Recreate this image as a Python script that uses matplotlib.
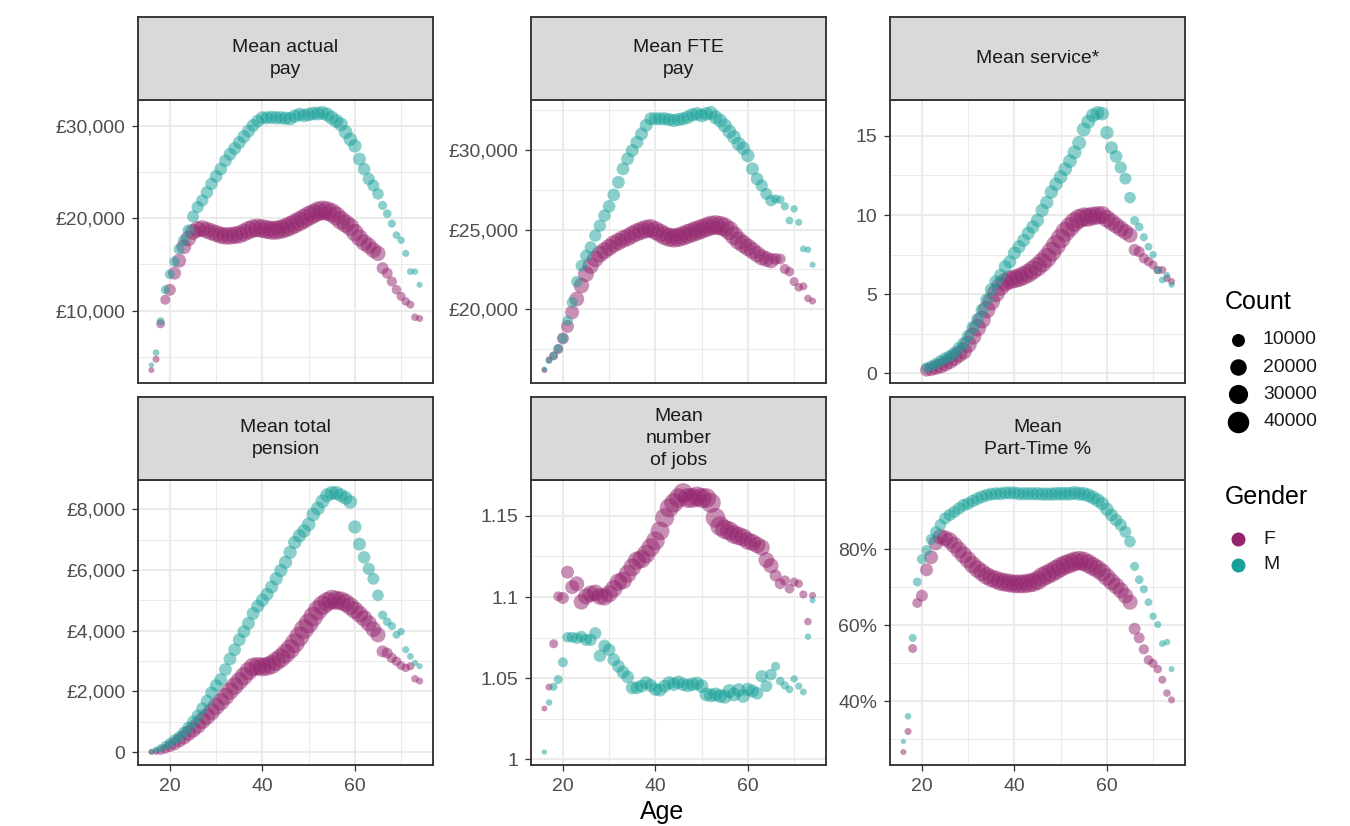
import numpy as np
import matplotlib
matplotlib.use('Agg')
import matplotlib.pyplot as plt
from matplotlib.ticker import MultipleLocator, FuncFormatter

plt.rcParams['font.family'] = ['Liberation Sans', 'DejaVu Sans']

# ---- data ----
ages = list(range(16, 75))
service_ages = list(range(21, 75))

count_F = [300, 900, 2800, 4200, 7800, 10000, 12500, 15000, 17000, 18500,
           20000, 21000, 21500, 22000, 22500, 23000, 23500, 24000, 24500, 25000,
           26000, 27000, 27500, 28000, 28500, 29000, 29500, 30000, 30500, 31000,
           32000, 32500, 33000, 33000, 33000, 32500, 32500, 32000, 31500, 31000,
           30000, 28500, 27000, 25500, 24000, 22000, 20500, 19000, 17500, 16000,
           7800, 5800, 4500, 3600, 2900, 2300, 1800, 1300, 900]
count_M = [100, 600, 1700, 2800, 4200, 5000, 5800, 6500, 7200, 7800,
           8200, 8500, 8800, 9000, 9200, 9400, 9500, 9600, 9700, 9800,
           9900, 10000, 10000, 10100, 10200, 10300, 10400, 10500, 10600, 10700,
           10800, 11000, 11200, 11400, 11600, 11800, 12000, 12200, 12400, 12500,
           12500, 12300, 12000, 11500, 11000, 10000, 9200, 8500, 7800, 7000,
           3000, 2400, 1900, 1500, 1200, 950, 750, 550, 350]

pay_F = [3550, 4730, 8570, 11180, 12260, 14050, 15410, 16920, 17810, 18530,
         18820, 18890, 18710, 18530, 18350, 18170, 18100, 18100, 18170, 18240,
         18460, 18710, 18890, 18960, 18890, 18780, 18710, 18710, 18820, 18960,
         19180, 19430, 19680, 19960, 20250, 20500, 20750, 20860, 20790, 20610,
         20250, 19780, 19430, 19070, 18460, 17890, 17380, 17030, 16560, 16200,
         14600, 14050, 13150, 12260, 11540, 11000, 10650, 9280, 9140]
pay_M = [4100, 5450, 8850, 12260, 13940, 15300, 16670, 17630, 18710, 20210,
         21220, 21940, 22830, 23730, 24550, 25340, 26240, 26950, 27560, 28210,
         28850, 29460, 30070, 30540, 30900, 30900, 30950, 30900, 30900, 30850,
         30800, 31080, 31250, 31150, 31250, 31360, 31360, 31430, 31250, 30900,
         30540, 30180, 29350, 28570, 27850, 26420, 25340, 24270, 23550, 22650,
         21400, 20500, 19430, 18170, 17630, 16200, 14230, 14230, 12800]

fte_F = [16190, 16840, 17090, 17510, 18180, 18930, 19810, 20650, 21490, 22220,
         22740, 23160, 23470, 23680, 23890, 24100, 24250, 24410, 24520, 24690,
         24830, 24940, 25040, 25080, 24940, 24790, 24620, 24520, 24480, 24520,
         24620, 24730, 24830, 24940, 25040, 25150, 25250, 25290, 25250, 25150,
         24940, 24620, 24310, 24100, 23890, 23680, 23470, 23260, 23160, 23050,
         23160, 23160, 22530, 22360, 21740, 21380, 21440, 20690, 20520]
fte_M = [16250, 16780, 17090, 17550, 18180, 19290, 20440, 21740, 22740, 23370,
         23890, 24620, 25250, 25880, 26460, 27180, 27970, 28810, 29440, 29960,
         30480, 31000, 31530, 31950, 31950, 31950, 31950, 31900, 31840, 31900,
         31950, 32050, 32200, 32260, 32150, 32260, 32320, 32050, 31840, 31530,
         31150, 30800, 30380, 30100, 29640, 28810, 28180, 27760, 27240, 26820,
         26920, 26880, 26460, 25570, 26300, 25460, 23790, 23740, 22800]

service_F = [0.21, 0.27, 0.38, 0.48, 0.63, 0.79, 1.0, 1.21, 1.42, 1.84,
             2.36, 2.88, 3.4, 4.03, 4.55, 5.07, 5.49, 5.76, 5.9, 5.97,
             6.05, 6.18, 6.33, 6.53, 6.74, 7.0, 7.3, 7.68, 8.1, 8.52,
             8.94, 9.25, 9.56, 9.77, 9.87, 9.87, 9.94, 9.98, 10.0, 9.77,
             9.56, 9.35, 9.14, 8.94, 8.73, 7.8, 7.68, 7.27, 7.06, 6.85,
             6.53, 6.53, 6.0, 5.8]
service_M = [0.38, 0.48, 0.63, 0.79, 0.96, 1.1, 1.3, 1.6, 1.9, 2.35,
             2.9, 3.4, 4.0, 4.65, 5.3, 5.8, 6.2, 6.75, 7.05, 7.6,
             8.0, 8.4, 8.85, 9.25, 9.67, 10.3, 10.8, 11.45, 11.95, 12.4,
             12.9, 13.4, 13.95, 14.55, 15.4, 15.9, 16.3, 16.45, 16.4, 15.2,
             14.25, 13.7, 13.0, 12.3, 11.1, 9.65, 9.25, 8.6, 8.0, 7.5,
             6.5, 5.9, 6.2, 5.6]

pension_F = [0, 20, 54, 109, 196, 272, 380, 489, 620, 739,
             870, 1033, 1174, 1326, 1500, 1652, 1826, 2011, 2174, 2337,
             2500, 2663, 2804, 2826, 2804, 2826, 2880, 2989, 3098, 3239,
             3391, 3587, 3804, 4043, 4239, 4457, 4674, 4837, 4946, 5022,
             5000, 4980, 4913, 4804, 4674, 4543, 4402, 4239, 4043, 3859,
             3315, 3261, 3098, 2989, 2848, 2772, 2826, 2413, 2337]
pension_M = [20, 76, 130, 217, 304, 413, 511, 652, 815, 1000,
             1196, 1435, 1685, 1957, 2196, 2391, 2717, 3065, 3370, 3696,
             3967, 4239, 4565, 4804, 5000, 5196, 5435, 5707, 5978, 6250,
             6576, 6902, 7120, 7283, 7500, 7826, 8022, 8261, 8457, 8533,
             8533, 8457, 8370, 8239, 7413, 6848, 6413, 6033, 5707, 5163,
             4511, 4294, 4152, 3859, 3967, 3370, 3152, 2935, 2826]

jobs_F = [1.0313, 1.0445, 1.0712, 1.1004, 1.0994, 1.1153, 1.1061, 1.1082, 1.097, 1.1004,
          1.102, 1.1025, 1.1004, 1.1, 1.102, 1.1051, 1.1092, 1.1102, 1.1143, 1.1183,
          1.1224, 1.1234, 1.1265, 1.1305, 1.1346, 1.1407, 1.1488, 1.1549, 1.158, 1.161,
          1.1641, 1.161, 1.161, 1.162, 1.161, 1.161, 1.158, 1.1488, 1.1437, 1.1417,
          1.1407, 1.1386, 1.1376, 1.1366, 1.1346, 1.1336, 1.1321, 1.1305, 1.1228, 1.1193,
          1.1132, 1.1082, 1.1102, 1.1051, 1.1092, 1.1082, 1.1016, 1.0848, 1.101]
jobs_M = [1.0045, 1.035, 1.0447, 1.0492, 1.0598, 1.0752, 1.0752, 1.0746, 1.0756, 1.0736,
          1.0736, 1.0777, 1.0638, 1.0699, 1.0675, 1.0614, 1.0573, 1.0537, 1.0508, 1.0441,
          1.0441, 1.0451, 1.0472, 1.0455, 1.0431, 1.0427, 1.0451, 1.0472, 1.0462, 1.0476,
          1.0462, 1.0455, 1.0462, 1.0468, 1.0451, 1.04, 1.0394, 1.04, 1.039, 1.0386,
          1.0421, 1.04, 1.0427, 1.039, 1.0431, 1.0421, 1.0407, 1.0512, 1.0451, 1.0522,
          1.0573, 1.0482, 1.0455, 1.0431, 1.0496, 1.0451, 1.0415, 1.0756, 1.098]

parttime_F = [26.7, 32.1, 53.9, 65.9, 67.8, 74.6, 77.9, 81.7, 83.3, 82.9,
              82.3, 81.1, 79.8, 78.5, 77.2, 75.9, 74.8, 73.9, 73.0, 72.4,
              72.0, 71.5, 71.3, 71.1, 70.9, 70.9, 70.9, 71.1, 71.3, 71.8,
              72.7, 73.3, 73.9, 74.6, 75.3, 75.9, 76.3, 76.8, 77.0, 76.8,
              76.2, 75.5, 74.8, 73.9, 72.7, 71.5, 70.4, 69.2, 67.8, 66.1,
              59.1, 56.7, 53.7, 50.9, 50.0, 48.5, 45.7, 42.2, 40.4]
parttime_M = [29.5, 36.1, 56.7, 71.4, 77.4, 79.7, 82.6, 84.6, 86.4, 88.1,
              89.0, 89.8, 90.7, 91.6, 92.0, 92.7, 93.3, 93.8, 94.2, 94.5,
              94.6, 94.6, 94.8, 94.8, 94.8, 94.6, 94.6, 94.6, 94.6, 94.6,
              94.5, 94.5, 94.5, 94.6, 94.6, 94.6, 94.6, 94.8, 94.6, 94.5,
              94.2, 93.6, 92.9, 92.0, 90.5, 89.0, 87.7, 86.4, 84.6, 82.0,
              75.5, 72.0, 69.5, 66.1, 62.4, 60.2, 55.2, 55.6, 48.5]

count_breaks = [10000, 20000, 30000, 40000]
genders = ['F', 'M']
colors = {'F': '#94236C', 'M': '#17A198'}

# ---- helpers ----
DPI = 150
W, H = 1350, 826


def marker_area(c):
    d_px = 4.5 + 18 * np.sqrt(np.asarray(c, dtype=float) / 45000)
    return (d_px * 72 / DPI) ** 2


def money(v, pos):
    return '0' if abs(v) < 1e-9 else f'£{v:,.0f}'


def plain(v, pos):
    return f'{round(v, 3):g}'


def pct(v, pos):
    return f'{v:.0f}%'


panels = [
    ('Mean actual\npay', ages, pay_F, pay_M, 0, 10000, money),
    ('Mean FTE\npay', ages, fte_F, fte_M, 0, 5000, money),
    ('Mean service*', service_ages, service_F, service_M, 5, 5, plain),
    ('Mean total\npension', ages, pension_F, pension_M, 0, 2000, money),
    ('Mean\nnumber\nof jobs', ages, jobs_F, jobs_M, 0, 0.05, plain),
    ('Mean\nPart-Time %', ages, parttime_F, parttime_M, 0, 20, pct),
]

fig = plt.figure(figsize=(W / DPI, H / DPI), dpi=DPI, facecolor='white')

col_left = [138, 531, 890]
panel_w = 295
row_span = [(100, 383), (480, 765)]
strip_h = 83
grey20 = '#333333'

xlo = min(ages) - 0.05 * (max(ages) - min(ages))
xhi = max(ages) + 0.05 * (max(ages) - min(ages))

for i, (title, x, yF, yM, off, step, fmt) in enumerate(panels):
    r, c = divmod(i, 3)
    top, bot = row_span[r]
    left = col_left[c]
    ax = fig.add_axes([left / W, 1 - bot / H, panel_w / W, (bot - top) / H])
    sax = fig.add_axes([left / W, 1 - top / H, panel_w / W, strip_h / H])

    cF = count_F[off:]
    cM = count_M[off:]
    ax.scatter(x, yF, s=marker_area(cF), color=colors['F'], alpha=0.5,
               linewidths=0, zorder=3)
    ax.scatter(x, yM, s=marker_area(cM), color=colors['M'], alpha=0.5,
               linewidths=0, zorder=3)

    allv = list(yF) + list(yM)
    lo, hi = min(allv), max(allv)
    ax.set_ylim(lo - 0.05 * (hi - lo), hi + 0.05 * (hi - lo))
    ax.set_xlim(xlo, xhi)

    ax.yaxis.set_major_locator(MultipleLocator(step))
    ax.yaxis.set_minor_locator(MultipleLocator(step / 2))
    ax.yaxis.set_major_formatter(FuncFormatter(fmt))
    ax.xaxis.set_major_locator(MultipleLocator(20))
    ax.xaxis.set_minor_locator(MultipleLocator(10))

    ax.set_axisbelow(True)
    ax.grid(which='major', color='#EBEBEB', linewidth=1.0)
    ax.grid(which='minor', color='#EBEBEB', linewidth=0.5)
    for sp in ax.spines.values():
        sp.set_color(grey20)
        sp.set_linewidth(0.9)
    ax.tick_params(which='major', direction='out', length=2.9, width=0.6,
                   color=grey20, labelsize=9.3, labelcolor='#4D4D4D', pad=3.2)
    ax.tick_params(which='minor', length=0)
    if r == 0:
        ax.tick_params(axis='x', which='both', bottom=False, labelbottom=False)

    sax.set_facecolor('#D9D9D9')
    sax.set_xticks([])
    sax.set_yticks([])
    for sp in sax.spines.values():
        sp.set_color(grey20)
        sp.set_linewidth(0.9)
    sax.text(0.5, 0.5, title, ha='center', va='center', fontsize=9.3,
             color='#1A1A1A', linespacing=1.4, transform=sax.transAxes)

fig.text(662 / W, 1 - 812 / H, 'Age', ha='center', va='center', fontsize=12)

# ---- legends ----
lax = fig.add_axes([0, 0, 1, 1], facecolor='none')
lax.set_xlim(0, W)
lax.set_ylim(H, 0)
lax.axis('off')

lax.text(1225, 302, 'Count', ha='left', va='center', fontsize=12)
for k, b in enumerate(count_breaks):
    yy = 340 + k * 27.2
    lax.scatter([1238], [yy], s=marker_area(b), color='black', linewidths=0)
    lax.text(1263, yy, f'{b}', ha='left', va='center', fontsize=9.3, color='#1A1A1A')

lax.text(1225, 497, 'Gender', ha='left', va='center', fontsize=12)
for k, g in enumerate(genders):
    yy = 539 + k * 25.5
    lax.scatter([1238], [yy], s=(14 * 72 / DPI) ** 2, color=colors[g], linewidths=0)
    lax.text(1263, yy, g, ha='left', va='center', fontsize=9.3, color='#1A1A1A')

fig.savefig('out.png', dpi=DPI, facecolor='white')
